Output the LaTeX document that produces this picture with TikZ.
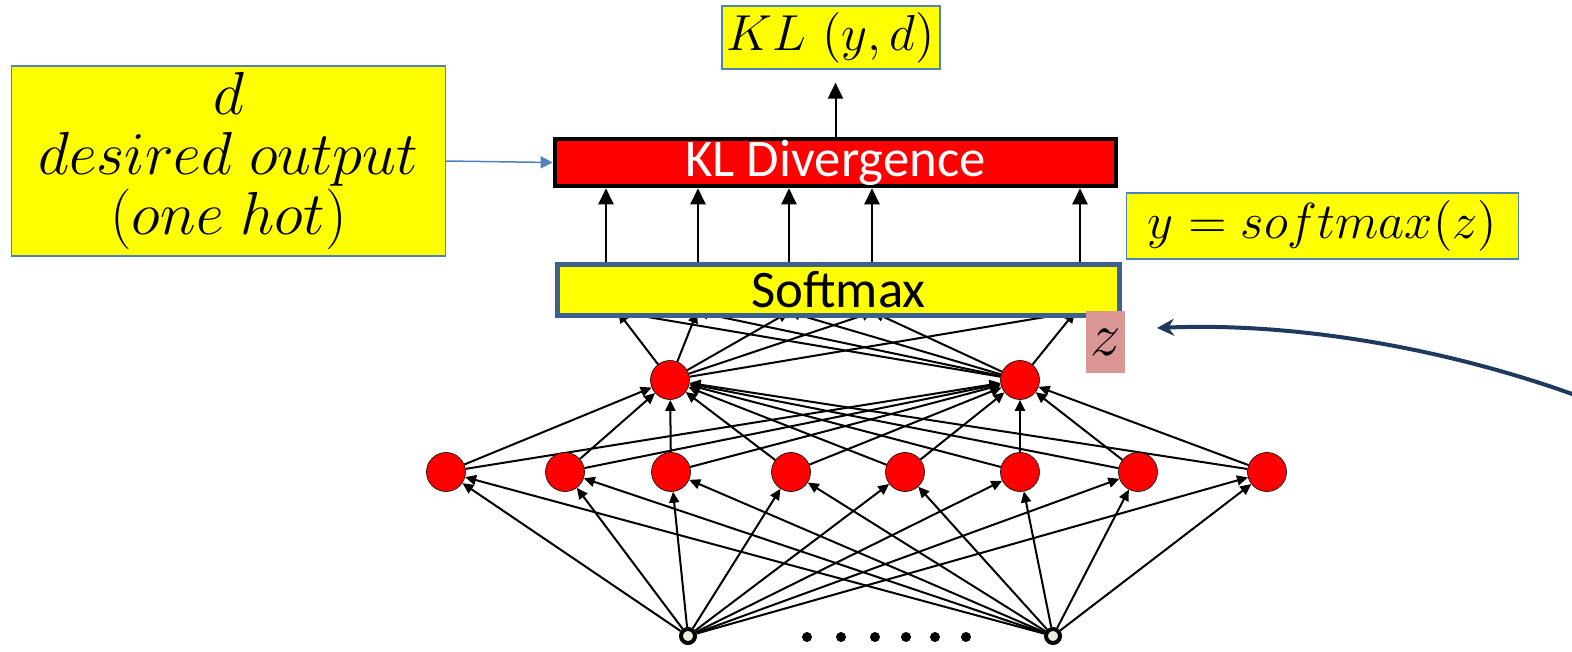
\documentclass[tikz,border=0pt]{standalone}
\usepackage{fontspec}
\setsansfont{Carlito}
\usepackage{tikz}
\usetikzlibrary{arrows.meta, backgrounds}
\definecolor{boxblue}{HTML}{4F81BD}
\definecolor{smblue}{HTML}{3C6190}
\definecolor{zpink}{HTML}{D99694}
\definecolor{navy}{HTML}{1F3A5F}
\definecolor{inpfill}{HTML}{EEECE1}
\definecolor{hlyellow}{HTML}{FFFF00}
\tikzset{
  ybox/.style={rectangle, draw=boxblue, line width=0.012cm, fill=hlyellow,
               inner sep=0pt},
  lossbox/.style={rectangle, draw=black, line width=0.045cm, fill=red,
                  text=white, font=\sffamily\fontsize{15}{18}\selectfont,
                  minimum width=5.61cm, minimum height=0.47cm, inner sep=0pt},
  smbox/.style={rectangle, draw=smblue, line width=0.05cm, fill=hlyellow,
                font=\sffamily\fontsize{15}{18}\selectfont,
                minimum width=5.62cm, minimum height=0.51cm, inner sep=0pt},
  zbox/.style={rectangle, fill=zpink, minimum width=0.39cm,
               minimum height=0.62cm, inner sep=0pt,
               font=\fontsize{16}{18}\selectfont},
  neuron/.style={circle, draw=black, line width=0.006cm, fill=red,
                 minimum size=0.39cm, inner sep=0pt},
  inp/.style={circle, draw=black, line width=0.04cm, fill=inpfill,
              minimum size=0.14cm, inner sep=0pt},
  dotn/.style={circle, fill=black, minimum size=0.1cm, inner sep=0pt},
  arc/.style={-{Triangle[length=0.11cm, width=0.10cm]}, line width=0.02cm},
  bigarc/.style={-{Triangle[length=0.16cm, width=0.15cm]}, line width=0.02cm},
  bluearc/.style={-{Triangle[length=0.12cm, width=0.12cm]}, draw=boxblue,
                  line width=0.015cm},
  navyarc/.style={-{Stealth[length=0.17cm, width=0.17cm]}, draw=navy,
                  line width=0.04cm}
}
\begin{document}
\begin{tikzpicture}[x=0.01cm, y=-0.01cm]
  \useasboundingbox (0,0) rectangle (1572,651);
  % boxes
  \node[ybox, minimum width=2.18cm, minimum height=0.63cm,
        font=\fontsize{14}{16}\selectfont] (loss) at (831,37.5) {$KL\ (y,d)$};
  \node[lossbox] (kl) at (835.5,162.5) {KL Divergence};
  \node[ybox, minimum width=4.33cm, minimum height=1.90cm, align=center,
        font=\fontsize{16}{17}\selectfont] (des) at (228.5,161)
        {$d$\\ $desired\ output$\\ $(one\ hot)$};
  \node[ybox, minimum width=3.91cm, minimum height=0.66cm,
        font=\fontsize{15}{18}\selectfont] (ysm) at (1322.5,226) {$y = softmax(z)$};
  \node[smbox] (sm) at (838.5,290) {Softmax};

  % network
  \node[neuron] (h1) at (670,380) {};
  \node[neuron] (h2) at (1020,380) {};
  \foreach \x [count=\i] in {446,565,671,791,905,1020,1138,1267}
    \node[neuron] (m\i) at (\x,472) {};
  \node[inp] (i1) at (688,636) {};
  \node[inp] (i2) at (1053,636) {};
  \foreach \x [count=\i] in {807,841,875,906,935,966}
    \node[dotn] (dot\i) at (\x,637) {};
  \foreach \x [count=\i] in {618,697,789,873,1075}
    \coordinate (s\i) at (\x,312);
  \foreach \x [count=\i] in {606,698,789,872,1080}
    \coordinate (o\i) at (\x,262);

  \begin{scope}[on background layer]
    \foreach \k in {1,2} {
      \foreach \j in {1,...,5} \draw[arc] (h\k) -- (s\j);
      \foreach \j in {1,...,8} \draw[arc] (m\j) -- (h\k);
      \foreach \j in {1,...,8} \draw[arc] (i\k) -- (m\j);
    }
  \end{scope}

  \node[zbox] (z) at (1105.5,342) {$z$};

  % arrows to the loss
  \foreach \i in {1,...,5}
    \draw[bigarc] (o\i) -- (o\i |- kl.south);
  \draw[bigarc, shorten >=0.13cm] (kl.north) -- (kl.north |- loss.south);
  \draw[bluearc] (des.east) -- (kl.west);

  \coordinate (cstart) at (1575,395);
  \coordinate (ztip) at (1157,328);
  \draw[navyarc] (cstart) .. controls (1450,350) and (1300,322) .. (ztip);
\end{tikzpicture}
\end{document}
